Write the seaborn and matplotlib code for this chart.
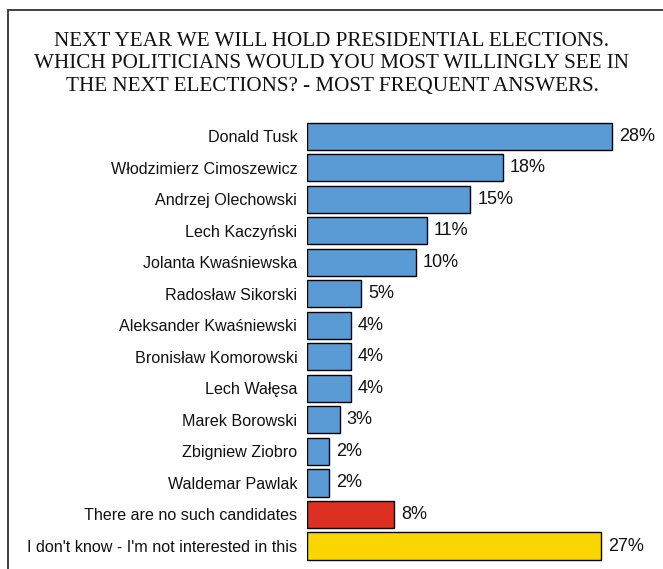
import matplotlib
matplotlib.use("Agg")
import matplotlib.pyplot as plt
import seaborn as sns
import pandas as pd
from matplotlib.patches import Rectangle

categories = [
    "Donald Tusk",
    "Włodzimierz Cimoszewicz",
    "Andrzej Olechowski",
    "Lech Kaczyński",
    "Jolanta Kwaśniewska",
    "Radosław Sikorski",
    "Aleksander Kwaśniewski",
    "Bronisław Komorowski",
    "Lech Wałęsa",
    "Marek Borowski",
    "Zbigniew Ziobro",
    "Waldemar Pawlak",
    "There are no such candidates",
    "I don't know - I'm not interested in this",
]
values = [28, 18, 15, 11, 10, 5, 4, 4, 4, 3, 2, 2, 8, 27]
value_labels = ["28%", "18%", "15%", "11%", "10%", "5%", "4%", "4%", "4%", "3%", "2%", "2%", "8%", "27%"]
colors = ["#5B9BD5"] * 12 + ["#DC3022", "#FAD600"]
title = ("NEXT YEAR WE WILL HOLD PRESIDENTIAL ELECTIONS.\n"
         "WHICH POLITICIANS WOULD YOU MOST WILLINGLY SEE IN\n"
         "THE NEXT ELECTIONS? - MOST FREQUENT ANSWERS.")

df = pd.DataFrame({"cat": categories, "val": values})

sns.set_theme(style="white")
plt.rcParams["font.family"] = ["Liberation Sans", "DejaVu Sans"]

W, H = 663, 569
fig = plt.figure(figsize=(W / 100, H / 100), dpi=100)
ax_left = 307 / W
ax_right = 660 / W
ax_top = 1 - 120.3 / H
ax_bottom = 1 - 561.8 / H
ax = fig.add_axes([ax_left, ax_bottom, ax_right - ax_left, ax_top - ax_bottom])

sns.barplot(data=df, y="cat", x="val", hue="cat", palette=colors, legend=False,
            orient="h", width=0.86, edgecolor="black", linewidth=1.0, ax=ax,
            saturation=1)

ax.set_xlim(0, 32.4)
ax.set_ylim(len(categories) - 0.5, -0.5)
for s in ax.spines.values():
    s.set_visible(False)
ax.set_xticks([])
ax.set_xlabel("")
ax.set_ylabel("")
ax.tick_params(axis="y", length=0, pad=7, labelsize=11.6, labelcolor="#111111")

for i, (v, lab) in enumerate(zip(values, value_labels)):
    ax.annotate(lab, xy=(v, i), xytext=(5, 0), textcoords="offset points",
                ha="left", va="center", fontsize=13, color="#111111")

fig.text(332 / W, 1 - 64 / H, title, ha="center", va="center",
         family=["Liberation Serif"], fontsize=15.2, linespacing=1.24,
         color="#111111")

fig.add_artist(Rectangle((8 / W, -0.05), 1.0, 1 - 9.5 / H + 0.05,
                         transform=fig.transFigure, fill=False,
                         edgecolor="#333333", linewidth=1.3))

fig.savefig("out.png", dpi=100)
